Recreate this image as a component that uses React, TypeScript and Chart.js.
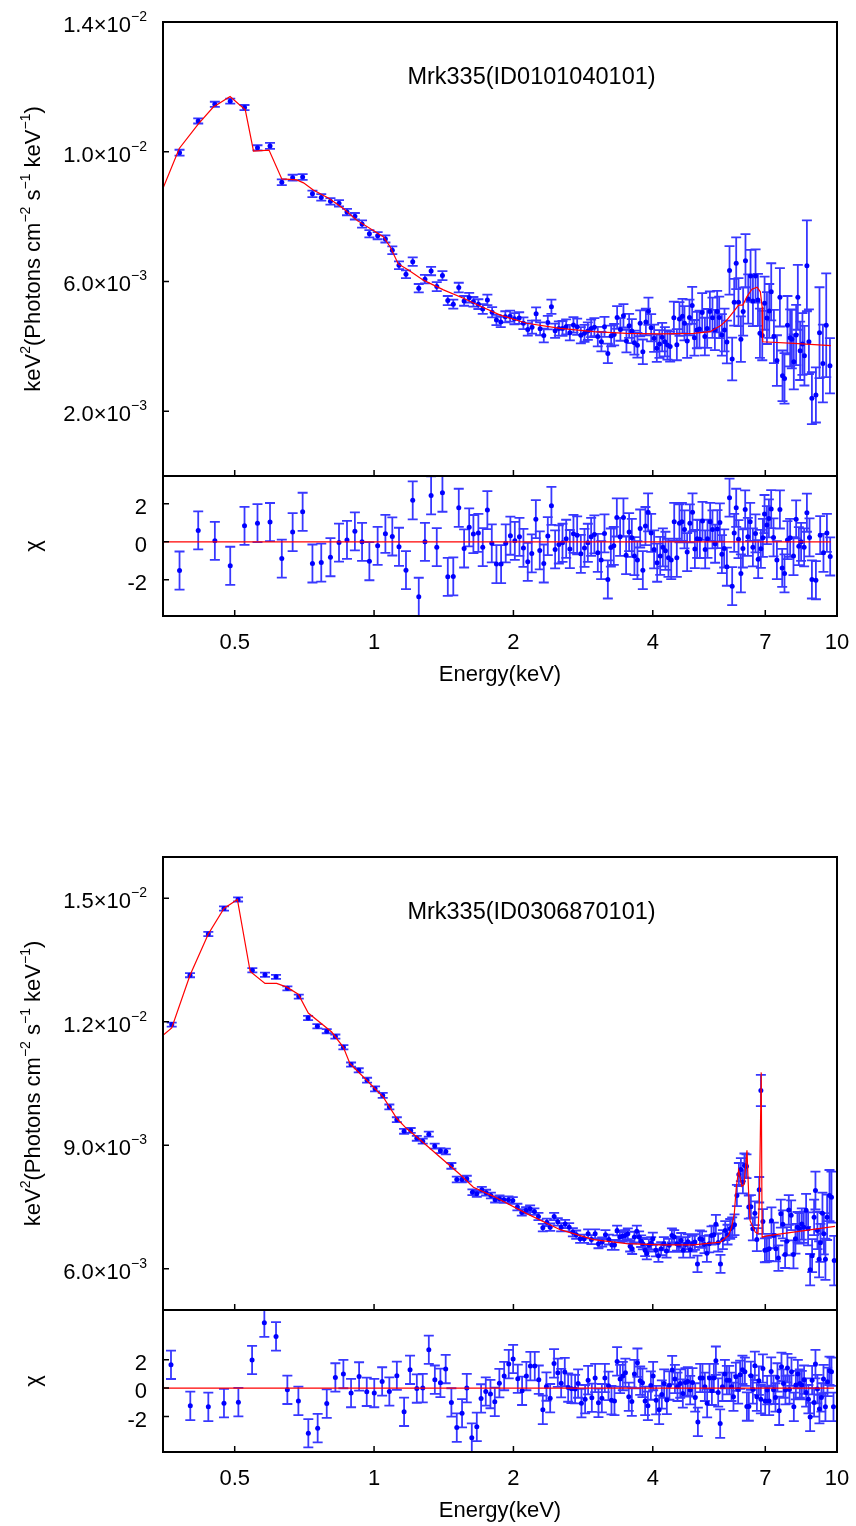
import React, { useEffect, useRef } from "react";
import { Chart, registerables } from "chart.js";

Chart.register(...registerables);

const FONT = '"Liberation Sans", Arial, Helvetica, sans-serif';
const PAGE_W = 856;
const PAGE_H = 1526;

// ---------------- shared axis data ----------------
const energyMin = 0.35;
const energyMax = 10;
const xTickValues = [0.5, 1, 2, 4, 7, 10];
const xTickLabels = ["0.5", "1", "2", "4", "7", "10"];
const xAxisTitle = "Energy(keV)";
const chiTickValues = [2, 0, -2];
const chiTickLabels = ["2", "0", "-2"];
const chiSigma = 1; // residuals are in units of sigma

// ---------------- Observation 1 : Mrk335 (ID0101040101) ----------------
const obs1Title = "Mrk335(ID0101040101)";
const obs1FluxMin = 0; // x10^-3
const obs1FluxMax = 14;
const obs1FluxTicks = [2, 6, 10, 14];
const obs1FluxTickMain = ["2.0×10", "6.0×10", "1.0×10", "1.4×10"];
const obs1FluxTickExp = ["−3", "−3", "−2", "−2"];
const obs1ChiMin = -3.9;
const obs1ChiMax = 3.46;

const obs1Energy = [
  0.380, 0.417, 0.453, 0.489, 0.525, 0.560, 0.596, 0.632, 0.667, 0.701,
  0.736, 0.769, 0.805, 0.840, 0.874, 0.909, 0.942, 0.977, 1.018, 1.058,
  1.095, 1.132, 1.172, 1.212, 1.249, 1.288, 1.328, 1.366, 1.405, 1.443,
  1.483, 1.524, 1.565, 1.605, 1.639, 1.680, 1.717, 1.757, 1.799, 1.838,
  1.878, 1.921, 1.967, 2.010, 2.058, 2.102, 2.148, 2.194, 2.239, 2.284,
  2.326, 2.373, 2.416, 2.461, 2.507, 2.553, 2.600, 2.648, 2.696, 2.746,
  2.797, 2.848, 2.896, 2.944, 2.992, 3.043, 3.098, 3.146, 3.199, 3.252,
  3.301, 3.350, 3.405, 3.457, 3.509, 3.556, 3.604, 3.651, 3.706, 3.757,
  3.807, 3.865, 3.915, 3.968, 4.027, 4.081, 4.135, 4.191, 4.248, 4.303,
  4.361, 4.442, 4.509, 4.568, 4.637, 4.683, 4.746, 4.801, 4.866, 4.921,
  4.982, 5.046, 5.114, 5.183, 5.243, 5.314, 5.383, 5.448, 5.510, 5.566,
  5.641, 5.715, 5.783, 5.859, 5.937, 5.997, 6.057, 6.127, 6.200, 6.270,
  6.343, 6.430, 6.505, 6.583, 6.669, 6.749, 6.816, 6.895, 6.975, 7.058,
  7.139, 7.210, 7.307, 7.417, 7.528, 7.626, 7.702, 7.816, 7.921, 7.988,
  8.067, 8.161, 8.230, 8.325, 8.420, 8.504, 8.610, 8.696, 8.827, 9.004,
  9.167, 9.322, 9.478, 9.655,
];
const obs1Flux = [
  9.97, 10.95, 11.46, 11.56, 11.36, 10.12, 10.18, 9.06, 9.20, 9.22,
  8.70, 8.59, 8.47, 8.41, 8.14, 8.01, 7.77, 7.47, 7.41, 7.31,
  6.96, 6.50, 6.22, 6.61, 5.79, 6.07, 6.32, 5.84, 6.18, 5.41,
  5.30, 5.81, 5.40, 5.50, 5.37, 5.30, 5.15, 5.43, 5.05, 4.81,
  4.75, 4.91, 4.93, 4.85, 4.87, 4.71, 4.52, 4.59, 5.00, 4.54,
  4.33, 4.73, 5.22, 4.48, 4.55, 4.55, 4.60, 4.42, 4.66, 4.60,
  4.34, 4.40, 4.47, 4.55, 4.59, 4.30, 4.14, 4.60, 3.78, 4.32,
  4.36, 4.89, 4.52, 4.94, 4.16, 4.63, 4.47, 4.11, 4.03, 4.71,
  3.83, 4.75, 5.08, 4.57, 4.25, 3.94, 4.07, 4.28, 4.14, 4.04,
  3.99, 4.88, 4.05, 4.84, 4.93, 4.71, 4.16, 4.89, 5.26, 4.26,
  4.50, 4.53, 5.04, 4.30, 4.55, 5.07, 4.88, 4.50, 5.07, 4.89,
  4.35, 4.50, 4.13, 6.34, 3.61, 5.36, 6.56, 5.36, 4.22, 5.07,
  6.64, 5.46, 6.17, 5.40, 6.17, 5.43, 4.40, 4.33, 5.33, 4.87,
  5.09, 5.68, 4.30, 3.56, 5.51, 3.09, 3.01, 4.65, 4.26, 4.22,
  3.52, 4.35, 5.51, 3.86, 4.07, 3.71, 6.48, 4.14, 2.40, 2.50,
  4.42, 3.47, 4.65, 3.40,
];
const obs1FluxErr = [
  0.09, 0.08, 0.08, 0.08, 0.08, 0.08, 0.09, 0.09, 0.09, 0.09,
  0.10, 0.10, 0.10, 0.10, 0.10, 0.10, 0.11, 0.11, 0.11, 0.11,
  0.12, 0.12, 0.12, 0.13, 0.13, 0.13, 0.13, 0.14, 0.14, 0.14,
  0.14, 0.15, 0.15, 0.15, 0.15, 0.15, 0.15, 0.16, 0.16, 0.16,
  0.16, 0.17, 0.17, 0.17, 0.18, 0.18, 0.19, 0.20, 0.20, 0.20,
  0.21, 0.21, 0.22, 0.22, 0.22, 0.23, 0.23, 0.24, 0.24, 0.25,
  0.25, 0.26, 0.27, 0.27, 0.28, 0.30, 0.30, 0.31, 0.30, 0.32,
  0.33, 0.35, 0.35, 0.36, 0.35, 0.37, 0.37, 0.37, 0.38, 0.40,
  0.38, 0.41, 0.42, 0.42, 0.42, 0.42, 0.43, 0.44, 0.45, 0.45,
  0.46, 0.50, 0.48, 0.52, 0.53, 0.53, 0.52, 0.55, 0.57, 0.55,
  0.56, 0.57, 0.60, 0.58, 0.60, 0.62, 0.62, 0.62, 0.64, 0.64,
  0.64, 0.66, 0.66, 0.75, 0.66, 0.72, 0.80, 0.74, 0.70, 0.74,
  0.82, 0.76, 0.80, 0.78, 0.82, 0.80, 0.76, 0.76, 0.82, 0.80,
  0.83, 0.88, 0.82, 0.78, 0.90, 0.78, 0.78, 0.90, 0.88, 0.90,
  0.85, 0.93, 1.00, 0.90, 0.95, 0.92, 1.40, 1.00, 0.80, 0.85,
  1.40, 1.20, 1.60, 0.85,
];
const obs1ModelEnergy = [
  0.35, 0.3795, 0.417, 0.449, 0.4886, 0.527, 0.549, 0.593, 0.632, 0.681,
  0.704, 0.739, 0.80, 0.858, 0.917, 1.047, 1.083, 1.128, 1.186, 1.278,
  1.412, 1.56, 1.694, 1.873, 2.137, 2.524, 2.98, 3.516, 4.148, 4.9,
  5.32, 5.6, 5.78, 5.98, 6.13, 6.26, 6.39, 6.55, 6.72, 6.83,
  6.89, 6.91, 8.07, 9.7,
];
const obs1Model = [
  8.87, 10.10, 10.85, 11.37, 11.70, 11.29, 10.02, 10.05, 9.16, 9.13,
  9.04, 8.82, 8.56, 8.25, 7.89, 7.38, 7.07, 6.54, 6.35, 6.04,
  5.74, 5.48, 5.24, 4.96, 4.71, 4.55, 4.45, 4.40, 4.38, 4.40,
  4.45, 4.63, 4.81, 5.07, 5.27, 5.27, 5.53, 5.76, 5.82, 5.68,
  5.22, 4.14, 4.09, 4.02,
];
const obs1ChiEnergy = [
  0.380, 0.417, 0.453, 0.489, 0.525, 0.560, 0.596, 0.632, 0.667, 0.701,
  0.736, 0.769, 0.805, 0.840, 0.874, 0.909, 0.942, 0.977, 1.018, 1.058,
  1.095, 1.132, 1.172, 1.212, 1.249, 1.288, 1.328, 1.366, 1.405, 1.443,
  1.483, 1.524, 1.565, 1.605, 1.639, 1.680, 1.717, 1.757, 1.796, 1.838,
  1.881, 1.925, 1.970, 2.014, 2.061, 2.102, 2.148, 2.191, 2.236, 2.280,
  2.326, 2.373, 2.416, 2.461, 2.507, 2.553, 2.600, 2.648, 2.696, 2.746,
  2.797, 2.848, 2.896, 2.944, 2.992, 3.043, 3.094, 3.146, 3.199, 3.247,
  3.295, 3.345, 3.400, 3.457, 3.503, 3.556, 3.604, 3.651, 3.706, 3.757,
  3.807, 3.857, 3.908, 3.968, 4.027, 4.088, 4.150, 4.206, 4.260, 4.325,
  4.384, 4.450, 4.508, 4.568, 4.623, 4.683, 4.746, 4.811, 4.874, 4.932,
  4.988, 5.056, 5.122, 5.191, 5.251, 5.321, 5.383, 5.454, 5.518, 5.585,
  5.641, 5.706, 5.783, 5.859, 5.937, 5.997, 6.057, 6.127, 6.200, 6.262,
  6.334, 6.419, 6.493, 6.581, 6.667, 6.757, 6.848, 6.917, 6.973, 7.056,
  7.126, 7.208, 7.292, 7.416, 7.528, 7.614, 7.702, 7.816, 7.921, 8.054,
  8.161, 8.271, 8.365, 8.492, 8.610, 8.722, 8.827, 9.004, 9.198, 9.350,
  9.510, 9.667,
];
const obs1Chi = [
  -1.51, 0.60, 0.05, -1.26, 0.84, 0.98, 1.04, -0.88, 0.51, 1.58,
  -1.14, -1.09, -0.81, -0.04, 0.10, 0.55, 0.00, -1.02, -0.21, 0.42,
  0.28, -0.26, -1.49, 2.18, -2.89, 0.00, 2.44, -0.28, 2.58, -1.84,
  -1.82, 1.79, -0.35, 0.76, 0.41, 0.47, -0.28, 1.67, -0.08, -1.17,
  -1.17, -0.08, 0.32, 0.05, 0.26, -0.32, -1.05, -0.61, 1.19, -0.45,
  -1.14, 0.30, 1.89, -0.40, -0.14, -0.05, 0.16, -0.38, 0.42, 0.34,
  -0.63, -0.32, -0.05, 0.26, 0.39, -0.58, -0.96, 0.44, -1.98, -0.30,
  -0.21, 1.28, 0.26, 1.28, -0.70, 0.51, 0.21, -0.75, -0.96, 0.70,
  -1.49, 0.83, 1.55, 0.47, -0.40, -1.10, -0.74, -0.29, -0.47, -0.84,
  -0.96, 1.05, -0.84, 0.97, 1.05, 0.65, -0.54, 0.97, 1.55, -0.38,
  0.16, 0.14, 1.10, -0.40, 0.16, 1.05, 0.65, -0.10, 0.67, 1.02,
  -0.65, -0.35, -1.31, 2.32, -2.33, 0.47, 1.79, 0.14, -1.66, -0.35,
  1.70, 0.26, 1.05, -0.29, 0.44, -0.91, -0.37, 0.21, 1.46, 0.88,
  1.23, 1.72, 0.23, -0.96, 1.70, -1.37, -1.66, 0.09, 0.21, -0.75,
  1.18, -0.23, 0.00, -0.29, 1.53, 0.23, -1.98, -2.02, 0.35, -0.58,
  0.47, -0.77,
];
const obs1ChiModelEnergy = [0.35, 9.7];
const obs1ChiModel = [0, 0];

// ---------------- Observation 2 : Mrk335 (ID0306870101) ----------------
const obs2Title = "Mrk335(ID0306870101)";
const obs2FluxMin = 5; // x10^-3
const obs2FluxMax = 16;
const obs2FluxTicks = [6, 9, 12, 15];
const obs2FluxTickMain = ["6.0×10", "9.0×10", "1.2×10", "1.5×10"];
const obs2FluxTickExp = ["−3", "−3", "−2", "−2"];
const obs2ChiMin = -4.5;
const obs2ChiMax = 5.5;

const obs2Energy = [
  0.3655, 0.4003, 0.4385, 0.474, 0.5084, 0.5458, 0.5813, 0.6141, 0.6498, 0.6877,
  0.7202, 0.7543, 0.7903, 0.8249, 0.8585, 0.8919, 0.9266, 0.9658, 1.005, 1.044,
  1.079, 1.120, 1.161, 1.200, 1.237, 1.274, 1.313, 1.352, 1.391, 1.429,
  1.469, 1.509, 1.547, 1.586, 1.631, 1.667, 1.709, 1.746, 1.788, 1.826,
  1.866, 1.907, 1.951, 1.994, 2.040, 2.085, 2.130, 2.173, 2.220, 2.265,
  2.315, 2.362, 2.401, 2.449, 2.494, 2.536, 2.587, 2.639, 2.688, 2.733,
  2.787, 2.843, 2.900, 2.948, 3.003, 3.053, 3.110, 3.161, 3.215, 3.264,
  3.306, 3.350, 3.395, 3.439, 3.486, 3.533, 3.574, 3.610, 3.651, 3.695,
  3.737, 3.775, 3.807, 3.851, 3.883, 3.922, 3.968, 4.001, 4.062, 4.114,
  4.170, 4.227, 4.283, 4.340, 4.399, 4.450, 4.510, 4.555, 4.608, 4.654,
  4.707, 4.764, 4.818, 4.874, 4.932, 4.996, 5.056, 5.113, 5.173, 5.235,
  5.296, 5.357, 5.420, 5.475, 5.538, 5.602, 5.669, 5.735, 5.801, 5.879,
  5.937, 6.006, 6.078, 6.138, 6.200, 6.262, 6.311, 6.375, 6.449, 6.516,
  6.581, 6.646, 6.713, 6.791, 6.848, 6.917, 6.986, 7.055, 7.136, 7.218,
  7.303, 7.379, 7.474, 7.563, 7.638, 7.726, 7.791, 7.868, 7.960, 8.054,
  8.133, 8.214, 8.296, 8.395, 8.478, 8.575, 8.662, 8.749, 8.836, 8.924,
  8.984, 9.073, 9.149, 9.210, 9.302, 9.366, 9.441, 9.520, 9.634, 9.729,
  9.863,
];
const obs2Flux = [
  11.93, 13.13, 14.13, 14.75, 14.97, 13.25, 13.14, 13.09, 12.81, 12.61,
  12.09, 11.89, 11.77, 11.64, 11.38, 10.96, 10.82, 10.58, 10.37, 10.21,
  9.93, 9.62, 9.34, 9.36, 9.17, 9.10, 9.27, 8.98, 8.87, 8.85,
  8.50, 8.17, 8.17, 8.19, 7.86, 7.82, 7.92, 7.85, 7.78, 7.68,
  7.70, 7.68, 7.68, 7.66, 7.50, 7.37, 7.42, 7.46, 7.39, 7.27,
  7.00, 7.13, 7.01, 7.27, 7.14, 7.01, 7.09, 7.01, 6.89, 6.83,
  6.73, 6.73, 6.85, 6.71, 6.85, 6.61, 6.65, 6.83, 6.71, 6.58,
  6.58, 6.93, 6.77, 6.79, 6.81, 6.85, 6.55, 6.49, 6.77, 6.91,
  6.77, 6.67, 6.61, 6.45, 6.37, 6.57, 6.62, 6.73, 6.45, 6.32,
  6.49, 6.61, 6.43, 6.57, 6.81, 6.77, 6.61, 6.58, 6.69, 6.45,
  6.59, 6.66, 6.46, 6.61, 6.65, 6.12, 6.73, 6.71, 6.59, 6.38,
  6.61, 6.81, 6.83, 7.08, 6.64, 6.12, 6.71, 6.93, 6.83, 6.97,
  7.01, 7.07, 7.78, 8.29, 8.41, 8.11, 8.51, 8.49, 7.50, 7.51,
  6.97, 7.35, 6.71, 7.92, 10.33, 7.15, 6.45, 6.46, 6.49, 7.17,
  6.81, 6.49, 6.26, 7.34, 7.08, 6.35, 6.67, 7.43, 7.30, 6.35,
  6.73, 7.01, 6.98, 7.09, 7.01, 7.42, 6.97, 5.98, 6.32, 7.25,
  7.90, 6.93, 6.23, 6.63, 7.35, 6.85, 6.23, 7.25, 7.78, 7.74,
  6.20,
];
const obs2FluxErr = [
  0.05, 0.05, 0.05, 0.05, 0.05, 0.05, 0.05, 0.05, 0.05, 0.05,
  0.05, 0.05, 0.05, 0.05, 0.05, 0.05, 0.05, 0.06, 0.06, 0.06,
  0.06, 0.06, 0.06, 0.06, 0.06, 0.06, 0.06, 0.06, 0.06, 0.07,
  0.07, 0.07, 0.07, 0.07, 0.07, 0.07, 0.07, 0.07, 0.07, 0.07,
  0.08, 0.08, 0.08, 0.08, 0.08, 0.08, 0.08, 0.08, 0.08, 0.09,
  0.09, 0.09, 0.09, 0.09, 0.09, 0.10, 0.10, 0.10, 0.10, 0.10,
  0.10, 0.10, 0.11, 0.11, 0.11, 0.11, 0.11, 0.11, 0.12, 0.12,
  0.12, 0.12, 0.12, 0.13, 0.13, 0.13, 0.13, 0.13, 0.13, 0.14,
  0.14, 0.14, 0.14, 0.14, 0.14, 0.15, 0.15, 0.15, 0.15, 0.15,
  0.16, 0.16, 0.16, 0.16, 0.17, 0.17, 0.17, 0.17, 0.18, 0.18,
  0.18, 0.18, 0.19, 0.19, 0.19, 0.20, 0.20, 0.20, 0.21, 0.21,
  0.21, 0.22, 0.22, 0.23, 0.22, 0.22, 0.23, 0.23, 0.24, 0.24,
  0.24, 0.25, 0.26, 0.28, 0.28, 0.28, 0.29, 0.29, 0.28, 0.28,
  0.28, 0.29, 0.28, 0.31, 0.38, 0.30, 0.29, 0.29, 0.30, 0.32,
  0.31, 0.31, 0.31, 0.34, 0.34, 0.33, 0.34, 0.36, 0.36, 0.34,
  0.36, 0.37, 0.37, 0.38, 0.38, 0.40, 0.40, 0.38, 0.40, 0.43,
  0.46, 0.45, 0.44, 0.46, 0.50, 0.50, 0.50, 0.55, 0.62, 0.62,
  0.60,
];
const obs2ModelEnergy = [
  0.35, 0.3655, 0.4003, 0.4385, 0.474, 0.5067, 0.540, 0.5813, 0.616, 0.648,
  0.686, 0.721, 0.810, 0.8585, 0.887, 0.964, 1.047, 1.12, 1.177, 1.237,
  1.534, 1.639, 1.811, 2.137, 2.524, 2.98, 3.516, 4.148, 4.9, 5.6,
  5.83, 5.92, 6.0, 6.06, 6.13, 6.23, 6.30, 6.39, 6.44, 6.49,
  6.66, 6.75, 6.80, 6.86, 6.89, 7.05, 8.05, 9.9,
];
const obs2Model = [
  11.67, 11.85, 13.13, 14.13, 14.75, 14.97, 13.22, 12.93, 12.93, 12.84,
  12.67, 12.21, 11.75, 11.38, 10.98, 10.58, 10.17, 9.65, 9.40, 9.20,
  8.29, 7.98, 7.76, 7.34, 6.95, 6.71, 6.61, 6.58, 6.58, 6.65,
  6.81, 7.01, 7.34, 7.98, 8.39, 8.00, 8.05, 8.88, 7.90, 7.17,
  6.89, 6.85, 7.74, 10.77, 6.77, 6.80, 6.89, 7.03,
];
const obs2ChiEnergy = [
  0.3642, 0.4009, 0.4385, 0.474, 0.5092, 0.5451, 0.5794, 0.6141, 0.6497, 0.6863,
  0.7211, 0.7554, 0.7903, 0.8249, 0.8585, 0.8919, 0.9282, 0.9643, 1.001, 1.041,
  1.079, 1.120, 1.161, 1.196, 1.237, 1.274, 1.313, 1.353, 1.391, 1.428,
  1.469, 1.509, 1.549, 1.586, 1.626, 1.667, 1.703, 1.743, 1.784, 1.823,
  1.865, 1.910, 1.954, 1.997, 2.044, 2.088, 2.133, 2.176, 2.224, 2.269,
  2.315, 2.357, 2.401, 2.448, 2.494, 2.536, 2.582, 2.626, 2.669, 2.718,
  2.759, 2.805, 2.857, 2.900, 2.954, 3.003, 3.053, 3.105, 3.152, 3.209,
  3.257, 3.306, 3.350, 3.400, 3.446, 3.491, 3.550, 3.604, 3.651, 3.706,
  3.757, 3.800, 3.851, 3.904, 3.962, 4.007, 4.068, 4.129, 4.184, 4.233,
  4.290, 4.345, 4.405, 4.465, 4.523, 4.585, 4.645, 4.706, 4.762, 4.818,
  4.874, 4.940, 5.006, 5.064, 5.122, 5.183, 5.242, 5.303, 5.367, 5.420,
  5.475, 5.538, 5.593, 5.657, 5.725, 5.782, 5.849, 5.916, 5.975, 6.047,
  6.116, 6.177, 6.248, 6.324, 6.387, 6.450, 6.516, 6.581, 6.646, 6.713,
  6.781, 6.848, 6.917, 6.997, 7.066, 7.136, 7.208, 7.292, 7.364, 7.437,
  7.501, 7.587, 7.663, 7.739, 7.816, 7.894, 7.974, 8.068, 8.149, 8.230,
  8.312, 8.395, 8.491, 8.576, 8.675, 8.749, 8.836, 8.924, 8.984, 9.073,
  9.163, 9.254, 9.350, 9.441, 9.539, 9.634, 9.729, 9.827,
];
const obs2Chi = [
  1.64, -1.25, -1.32, -1.06, -0.99, 1.98, 4.61, 3.64, -0.12, -0.90,
  -3.18, -2.82, -1.09, 0.75, 0.99, -0.35, 0.82, -0.26, -0.35, 0.47,
  -0.24, 0.87, -1.67, 1.29, -0.03, 0.00, 2.70, 0.59, 0.37, 1.34,
  -1.01, -2.78, -1.77, 0.00, -3.49, -2.73, -0.73, -0.24, -0.42, -0.97,
  0.35, 0.85, 1.69, 2.05, 0.66, -0.19, 0.85, 1.55, 1.55, 0.59,
  -1.53, 0.11, -0.71, 1.74, 1.08, 0.35, 1.13, 0.04, -0.05, -0.07,
  0.32, -1.06, -0.78, 0.56, -0.68, 0.71, -1.04, -0.71, 0.71, 0.16,
  -0.85, -0.90, 1.88, 0.64, 0.85, 1.08, -0.61, -0.95, 0.99, 1.79,
  0.52, 0.37, -0.90, -1.25, 0.18, 0.85, -0.85, -1.53, -0.45, 0.32,
  -0.83, 0.18, 1.27, 0.64, 0.09, 0.32, -0.38, 0.40, 0.47, -0.14,
  0.40, -0.66, -2.38, 0.71, 0.71, 0.09, -1.06, 0.71, -0.19, 0.71,
  1.93, -0.31, -2.50, 0.09, 0.99, 0.56, 0.56, 0.09, -0.61, 0.80,
  -0.10, 0.94, 1.29, 1.15, -1.30, -1.30, 0.87, -0.10, 1.57, -0.61,
  0.52, -0.78, 1.38, -0.90, -0.14, -0.90, 1.17, -0.12, -0.66, 0.75,
  -1.60, 1.50, 0.32, -0.14, 1.41, -0.10, 1.15, -1.32, 0.21, 0.99,
  0.32, 0.21, 0.59, -0.31, -0.78, -2.03, 0.56, -1.01, 1.69, -0.07,
  -1.48, -0.66, 0.64, -1.32, 0.44, 1.22, 1.15, -1.32,
];
const obs2ChiModelEnergy = [0.35, 9.85];
const obs2ChiModel = [0, 0];

// ---------------- drawing helpers ----------------
type RichPart = { text: string; sup?: boolean };

function drawRich(
  ctx: CanvasRenderingContext2D,
  parts: RichPart[],
  x: number,
  y: number,
  align: "left" | "center" | "right",
  size: number,
  supSize: number,
  rise: number
) {
  ctx.textAlign = "left";
  ctx.textBaseline = "alphabetic";
  const widths = parts.map((p) => {
    ctx.font = `${p.sup ? supSize : size}px ${FONT}`;
    return ctx.measureText(p.text).width;
  });
  const total = widths.reduce((a, b) => a + b, 0);
  let cx = align === "center" ? x - total / 2 : align === "right" ? x - total : x;
  parts.forEach((p, i) => {
    ctx.font = `${p.sup ? supSize : size}px ${FONT}`;
    ctx.fillText(p.text, cx, p.sup ? y - rise : y);
    cx += widths[i];
  });
}

const fluxTitleParts: RichPart[] = [
  { text: "keV" },
  { text: "2", sup: true },
  { text: "(Photons cm" },
  { text: "−2", sup: true },
  { text: " s" },
  { text: "−1", sup: true },
  { text: " keV" },
  { text: "−1", sup: true },
  { text: ")" },
];
const chiTitleParts: RichPart[] = [{ text: "χ" }];

interface PanelSpec {
  key: string;
  area: { top: number; bottom: number };
  yMin: number;
  yMax: number;
  yTicks: number[];
  yTickParts: RichPart[][];
  energy: number[];
  values: number[];
  errors: number[] | null;
  modelEnergy: number[];
  model: number[];
  title?: string;
  yTitle: RichPart[];
  showX: boolean;
}

const AREA_LEFT = 163;
const AREA_RIGHT = 837;

function makePlugin(spec: PanelSpec) {
  return {
    id: "panel-" + spec.key,
    beforeDatasetsDraw(chart: any) {
      const { ctx, chartArea: a } = chart;
      const xs = chart.scales.x;
      const ys = chart.scales.y;
      ctx.save();
      ctx.beginPath();
      ctx.rect(a.left, a.top, a.right - a.left, a.bottom - a.top);
      ctx.clip();
      ctx.strokeStyle = "rgba(0,0,255,0.78)";
      ctx.lineWidth = 1.8;
      ctx.beginPath();
      spec.energy.forEach((e, i) => {
        const err = spec.errors ? spec.errors[i] : chiSigma;
        const px = xs.getPixelForValue(e);
        const y1 = ys.getPixelForValue(spec.values[i] + err);
        const y2 = ys.getPixelForValue(spec.values[i] - err);
        ctx.moveTo(px, y1);
        ctx.lineTo(px, y2);
        ctx.moveTo(px - 5, y1);
        ctx.lineTo(px + 5, y1);
        ctx.moveTo(px - 5, y2);
        ctx.lineTo(px + 5, y2);
      });
      ctx.stroke();
      ctx.restore();
    },
    afterDraw(chart: any) {
      const { ctx, chartArea: a } = chart;
      const xs = chart.scales.x;
      const ys = chart.scales.y;
      ctx.save();
      // frame
      ctx.strokeStyle = "#000";
      ctx.lineWidth = 2;
      ctx.strokeRect(a.left, a.top, a.right - a.left, a.bottom - a.top);
      // inward ticks
      ctx.lineWidth = 1.5;
      ctx.beginPath();
      xTickValues.forEach((v) => {
        const px = xs.getPixelForValue(v);
        ctx.moveTo(px, a.bottom);
        ctx.lineTo(px, a.bottom - 6);
      });
      spec.yTicks.forEach((v) => {
        const py = ys.getPixelForValue(v);
        ctx.moveTo(a.left, py);
        ctx.lineTo(a.left + 6, py);
      });
      ctx.stroke();
      ctx.fillStyle = "#000";
      // y tick labels
      spec.yTicks.forEach((v, i) => {
        drawRich(ctx, spec.yTickParts[i], 147, ys.getPixelForValue(v) + 10, "right", 22, 14, 11);
      });
      // x tick labels + axis title
      if (spec.showX) {
        ctx.textAlign = "center";
        ctx.textBaseline = "alphabetic";
        ctx.font = `22px ${FONT}`;
        xTickValues.forEach((v, i) => {
          ctx.fillText(xTickLabels[i], xs.getPixelForValue(v), a.bottom + 32.5);
        });
        ctx.fillText(xAxisTitle, (a.left + a.right) / 2, a.bottom + 64.5);
      }
      // panel title
      if (spec.title) {
        ctx.textAlign = "center";
        ctx.textBaseline = "alphabetic";
        ctx.font = `23.5px ${FONT}`;
        ctx.fillText(spec.title, 531.5, a.top + 62);
      }
      // y axis title (rotated)
      ctx.save();
      ctx.translate(40, (a.top + a.bottom) / 2);
      ctx.rotate(-Math.PI / 2);
      drawRich(ctx, spec.yTitle, 0, 0, "center", 22, 14, 10);
      ctx.restore();
      ctx.restore();
    },
  };
}

function buildConfig(spec: PanelSpec): any {
  const pts = spec.energy.map((e, i) => ({ x: e, y: spec.values[i] }));
  const modelPts = spec.modelEnergy.map((e, i) => ({ x: e, y: spec.model[i] }));
  return {
    type: "scatter",
    data: {
      datasets: [
        {
          type: "scatter",
          data: pts,
          pointRadius: 2.5,
          pointBackgroundColor: "#0000ff",
          pointBorderWidth: 0,
          order: 2,
        },
        {
          type: "line",
          data: modelPts,
          borderColor: "#ff0000",
          borderWidth: 1.2,
          pointRadius: 0,
          fill: false,
          tension: 0,
          order: 1,
        },
      ],
    },
    options: {
      responsive: false,
      animation: false,
      devicePixelRatio: 1,
      events: [],
      layout: {
        padding: {
          left: AREA_LEFT,
          right: PAGE_W - AREA_RIGHT,
          top: spec.area.top,
          bottom: PAGE_H - spec.area.bottom,
        },
      },
      scales: {
        x: { type: "logarithmic", min: energyMin, max: energyMax, display: false },
        y: { type: "linear", min: spec.yMin, max: spec.yMax, display: false },
      },
      plugins: { legend: { display: false }, tooltip: { enabled: false }, title: { display: false } },
    },
    plugins: [makePlugin(spec)],
  };
}

const fluxTickParts = (main: string[], exp: string[]): RichPart[][] =>
  main.map((m, i) => [{ text: m }, { text: exp[i], sup: true }]);
const chiTickParts: RichPart[][] = chiTickLabels.map((t) => [{ text: t }]);

const PANELS: PanelSpec[] = [
  {
    key: "o1flux",
    area: { top: 22, bottom: 476 },
    yMin: obs1FluxMin,
    yMax: obs1FluxMax,
    yTicks: obs1FluxTicks,
    yTickParts: fluxTickParts(obs1FluxTickMain, obs1FluxTickExp),
    energy: obs1Energy,
    values: obs1Flux,
    errors: obs1FluxErr,
    modelEnergy: obs1ModelEnergy,
    model: obs1Model,
    title: obs1Title,
    yTitle: fluxTitleParts,
    showX: false,
  },
  {
    key: "o1chi",
    area: { top: 476, bottom: 616 },
    yMin: obs1ChiMin,
    yMax: obs1ChiMax,
    yTicks: chiTickValues,
    yTickParts: chiTickParts,
    energy: obs1ChiEnergy,
    values: obs1Chi,
    errors: null,
    modelEnergy: obs1ChiModelEnergy,
    model: obs1ChiModel,
    yTitle: chiTitleParts,
    showX: true,
  },
  {
    key: "o2flux",
    area: { top: 857, bottom: 1310 },
    yMin: obs2FluxMin,
    yMax: obs2FluxMax,
    yTicks: obs2FluxTicks,
    yTickParts: fluxTickParts(obs2FluxTickMain, obs2FluxTickExp),
    energy: obs2Energy,
    values: obs2Flux,
    errors: obs2FluxErr,
    modelEnergy: obs2ModelEnergy,
    model: obs2Model,
    title: obs2Title,
    yTitle: fluxTitleParts,
    showX: false,
  },
  {
    key: "o2chi",
    area: { top: 1310, bottom: 1452 },
    yMin: obs2ChiMin,
    yMax: obs2ChiMax,
    yTicks: chiTickValues,
    yTickParts: chiTickParts,
    energy: obs2ChiEnergy,
    values: obs2Chi,
    errors: null,
    modelEnergy: obs2ChiModelEnergy,
    model: obs2ChiModel,
    yTitle: chiTitleParts,
    showX: true,
  },
];

export default function App() {
  const r0 = useRef<HTMLCanvasElement>(null);
  const r1 = useRef<HTMLCanvasElement>(null);
  const r2 = useRef<HTMLCanvasElement>(null);
  const r3 = useRef<HTMLCanvasElement>(null);
  const refs = [r0, r1, r2, r3];

  useEffect(() => {
    const charts = PANELS.map((p, i) => new Chart(refs[i].current as HTMLCanvasElement, buildConfig(p)));
    return () => charts.forEach((c) => c.destroy());
  }, []);

  return (
    <div
      style={{
        position: "absolute",
        left: 0,
        top: 0,
        width: PAGE_W,
        height: PAGE_H,
        background: "#ffffff",
        overflow: "hidden",
      }}
    >
      {refs.map((r, i) => (
        <canvas
          key={i}
          ref={r}
          width={PAGE_W}
          height={PAGE_H}
          style={{ position: "absolute", left: 0, top: 0, width: PAGE_W, height: PAGE_H }}
        />
      ))}
    </div>
  );
}
